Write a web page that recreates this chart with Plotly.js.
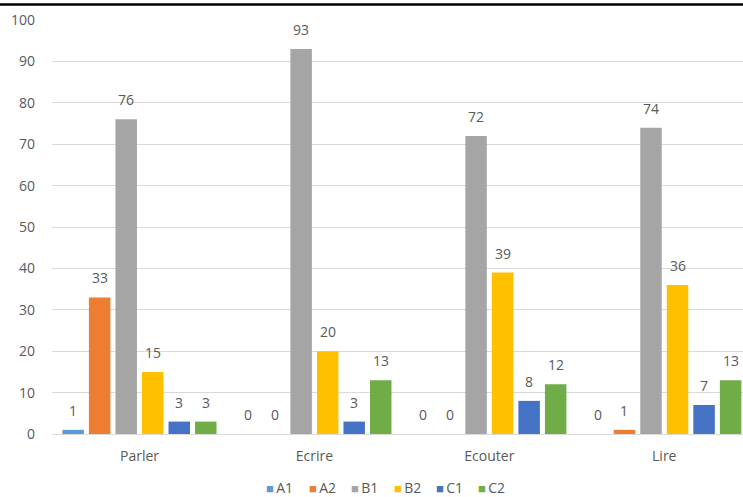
<!DOCTYPE html>
<html>
<head>
<meta charset="utf-8">
<script src="https://cdn.plot.ly/plotly-3.0.1.min.js"></script>
<style>html,body{margin:0;padding:0;background:#fff;}#chart{width:743px;height:497px;}</style>
</head>
<body>
<div id="chart"></div>
<script>
const categories = ['Parler', 'Ecrire', 'Ecouter', 'Lire'];
const seriesNames = ['A1', 'A2', 'B1', 'B2', 'C1', 'C2'];
const A1 = [1, 0, 0, 0];
const A2 = [33, 0, 0, 1];
const B1 = [76, 93, 72, 74];
const B2 = [15, 20, 39, 36];
const C1 = [3, 3, 8, 7];
const C2 = [3, 13, 12, 13];
const yTicks = [0, 10, 20, 30, 40, 50, 60, 70, 80, 90, 100];

const seriesValues = [A1, A2, B1, B2, C1, C2];
const colors = ['#5B9BD5', '#ED7D31', '#A5A5A5', '#FFC000', '#4472C4', '#70AD47'];

const W = 743, H = 497;
const margin = {l: 52, r: 0, t: 20, b: 63};
const plotW = W - margin.l - margin.r;
const plotH = H - margin.t - margin.b;
const xRange = [-0.5, 3.45];
const bargap = 0.09;
const pxPerCat = plotW / (xRange[1] - xRange[0]);
const slotPx = pxPerCat * (1 - bargap) / seriesNames.length;

const textColor = '#595959';
const fontFamily = 'Open Sans, sans-serif';

const traces = seriesNames.map((name, i) => ({
  type: 'bar', name: name, x: categories, y: seriesValues[i],
  marker: {color: colors[i]}, showlegend: false, hoverinfo: 'y'
}));

const annotations = [];
// value labels above each bar
seriesNames.forEach((name, i) => {
  categories.forEach((c, j) => {
    annotations.push({
      x: c, y: seriesValues[i][j], xref: 'x', yref: 'y',
      text: String(seriesValues[i][j]), showarrow: false,
      xanchor: 'center', yanchor: 'bottom',
      xshift: (i - (seriesNames.length - 1) / 2) * slotPx, yshift: 8,
      font: {family: fontFamily, size: 14, color: textColor}
    });
  });
});
// legend (square marker + name) below the plot
const legendStartPx = 264, legendStepPx = 42.5, legendYPx = 487;
seriesNames.forEach((name, i) => {
  annotations.push({
    xref: 'paper', yref: 'paper',
    x: (legendStartPx + i * legendStepPx - margin.l) / plotW,
    y: -(legendYPx - (margin.t + plotH)) / plotH,
    xanchor: 'left', yanchor: 'middle', showarrow: false,
    text: '<span style="color:' + colors[i] + ';font-size:13px">■</span>\u2009' + name,
    font: {family: fontFamily, size: 14, color: textColor}
  });
});

const layout = {
  width: W, height: H, margin: margin,
  paper_bgcolor: '#fff', plot_bgcolor: '#fff',
  font: {family: fontFamily, size: 14, color: textColor},
  barmode: 'group', bargap: bargap, bargroupgap: 0.19,
  showlegend: false,
  xaxis: {
    type: 'category', range: xRange, showgrid: false, zeroline: false,
    showline: false, ticks: '', ticklabelstandoff: 12,
    tickfont: {family: fontFamily, size: 14, color: textColor}, fixedrange: true
  },
  yaxis: {
    range: [0, 100], tickvals: yTicks, ticktext: yTicks.map(String),
    showgrid: true, gridcolor: '#D9D9D9', gridwidth: 1,
    zeroline: true, zerolinecolor: '#D9D9D9', zerolinewidth: 1,
    ticks: '', ticklabelstandoff: 16, showline: false,
    tickfont: {family: fontFamily, size: 14, color: textColor}, fixedrange: true
  },
  annotations: annotations,
  shapes: [{
    type: 'line', xref: 'paper', yref: 'paper', x0: -0.1, x1: 1.1,
    y0: 1 + 15.5 / plotH, y1: 1 + 15.5 / plotH,
    line: {color: '#000', width: 2.5}
  }]
};

Plotly.newPlot('chart', traces, layout, {displayModeBar: false, staticPlot: true});
</script>
</body>
</html>
